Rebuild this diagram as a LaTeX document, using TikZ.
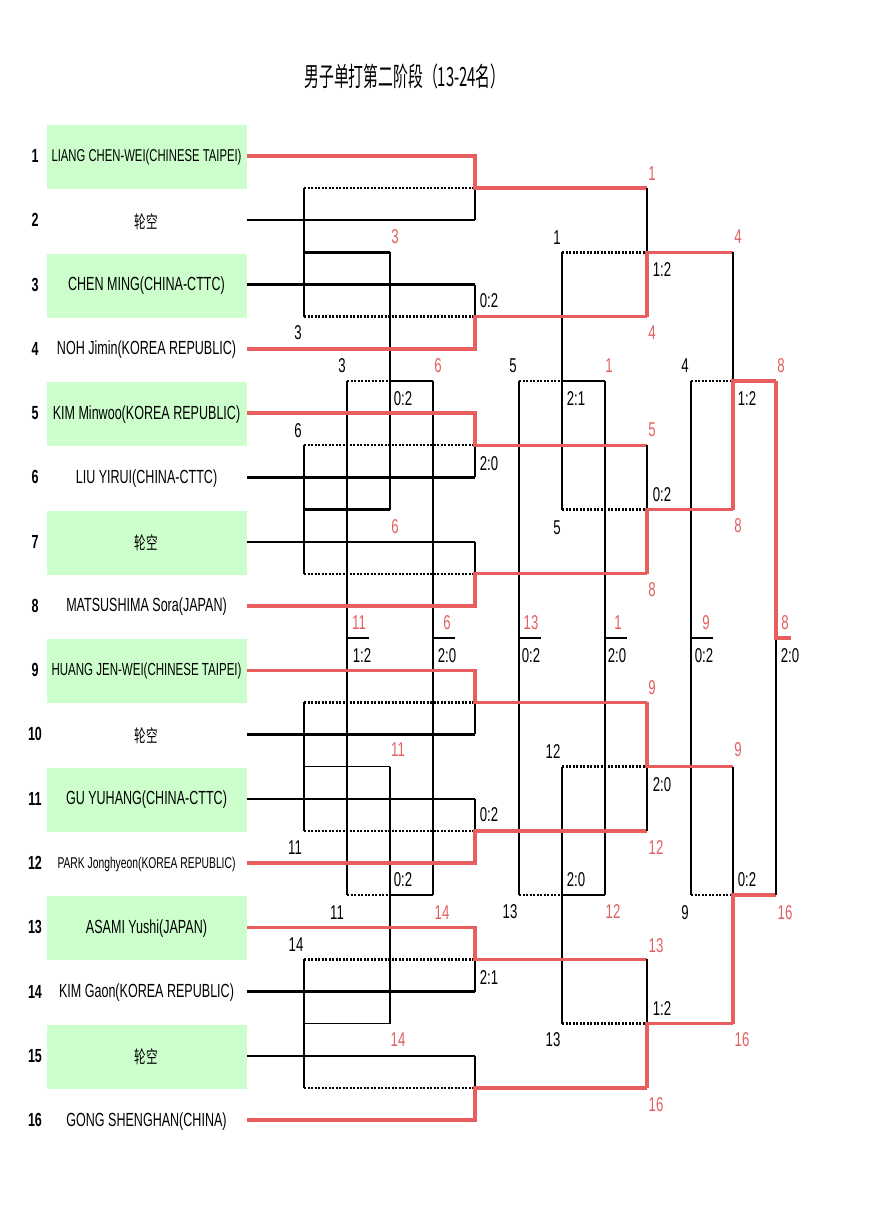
\documentclass[tikz,border=0pt]{standalone}
\usepackage{fontspec}
\setmainfont[FakeStretch=0.66]{Liberation Sans}
\newfontfamily\cjk[FakeStretch=0.66]{Noto Sans CJK SC}
\newfontfamily\cjktitle[FakeStretch=0.56]{Noto Sans CJK SC}
\definecolor{lineRed}{RGB}{232,94,94}
\definecolor{labRed}{RGB}{226,96,96}
\definecolor{boxGreen}{RGB}{204,255,204}
\begin{document}
\begin{tikzpicture}[x=1pt,y=-1pt,
  rl/.style={draw=lineRed,line width=3.4pt,line cap=square},
  bk/.style={draw=black,line width=2.2pt},
  md/.style={draw=black,line width=1.6pt},
  tn/.style={draw=black,line width=1.1pt},
  dt/.style={draw=black,line width=2.4pt,dash pattern=on 2pt off 1.5pt},
  gbox/.style={fill=boxGreen,minimum width=200pt,minimum height=64pt,inner sep=0pt,font=\fontsize{19}{19}\selectfont},
  wbox/.style={minimum width=200pt,minimum height=64pt,inner sep=0pt,font=\fontsize{19}{19}\selectfont},
  num/.style={inner sep=0pt,font=\bfseries\fontsize{19}{19}\selectfont},
  lab/.style={inner sep=0pt,font=\fontsize{20}{20}\selectfont},
  rlab/.style={lab,text=labRed},
  ttl/.style={inner sep=0pt,font=\cjktitle\fontsize{26.5}{26.5}\selectfont}]
\useasboundingbox (0,0) rectangle (870,1231);
\fill[white] (0,0) rectangle (870,1231);

% title
\node[ttl] (title) at (405,76) {男子单打第二阶段（13-24名）};

% row coordinates
\foreach \i/\y in {1/156,2/220.3,3/284.5,4/348.8,5/413.1,6/477.4,7/541.6,8/605.9,9/670.2,10/734.4,11/798.7,12/863.0,13/927.2,14/991.5,15/1055.8,16/1120.1}{
  \coordinate (y\i) at (0,\y);
  \node[num] (k\i) at (35,\y) {\i};
}
% match mid levels
\coordinate (m1) at (0,188.15); \coordinate (m2) at (0,316.65);
\coordinate (m3) at (0,445.25); \coordinate (m4) at (0,573.75);
\coordinate (m5) at (0,702.3);  \coordinate (m6) at (0,830.85);
\coordinate (m7) at (0,959.35); \coordinate (m8) at (0,1087.95);
\coordinate (q1) at (0,252.4);  \coordinate (q2) at (0,509.5);
\coordinate (q3) at (0,766.6);  \coordinate (q4) at (0,1023.65);
\coordinate (s1) at (0,381.0);  \coordinate (s2) at (0,895.1);
\coordinate (f) at (0,638.0);
% columns
\coordinate (cA) at (475,0); \coordinate (cB) at (647,0);
\coordinate (cC) at (733,0); \coordinate (cD) at (776,0); \coordinate (cE) at (791,0);
\coordinate (la) at (304,0); \coordinate (lb) at (390,0);
\coordinate (lc) at (347,0); \coordinate (ld) at (433,0);
\coordinate (le) at (562,0); \coordinate (lf) at (519,0);
\coordinate (lg) at (605,0); \coordinate (lh) at (691,0);

% player boxes
\node[gbox] (n1) at (146.5,157) {\resizebox{190pt}{!}{LIANG CHEN-WEI(CHINESE TAIPEI)}};
\node[wbox] (n2) at (146.5,221.3) {\cjk\fontsize{17.5}{17.5}\selectfont 轮空};
\node[gbox] (n3) at (146.5,285.5) {CHEN MING(CHINA-CTTC)};
\node[wbox] (n4) at (146.5,349.8) {NOH Jimin(KOREA REPUBLIC)};
\node[gbox] (n5) at (146.5,414.1) {KIM Minwoo(KOREA REPUBLIC)};
\node[wbox] (n6) at (146.5,478.4) {LIU YIRUI(CHINA-CTTC)};
\node[gbox] (n7) at (146.5,542.6) {\cjk\fontsize{17.5}{17.5}\selectfont 轮空};
\node[wbox] (n8) at (146.5,606.9) {MATSUSHIMA Sora(JAPAN)};
\node[gbox] (n9) at (146.5,671.2) {\resizebox{190pt}{!}{HUANG JEN-WEI(CHINESE TAIPEI)}};
\node[wbox] (n10) at (146.5,735.4) {\cjk\fontsize{17.5}{17.5}\selectfont 轮空};
\node[gbox] (n11) at (146.5,799.7) {GU YUHANG(CHINA-CTTC)};
\node[wbox] (n12) at (146.5,864.0) {\resizebox{178pt}{!}{PARK Jonghyeon(KOREA REPUBLIC)}};
\node[gbox] (n13) at (146.5,928.2) {ASAMI Yushi(JAPAN)};
\node[wbox] (n14) at (146.5,992.5) {KIM Gaon(KOREA REPUBLIC)};
\node[gbox] (n15) at (146.5,1056.8) {\cjk\fontsize{17.5}{17.5}\selectfont 轮空};
\node[wbox] (n16) at (146.5,1121.1) {GONG SHENGHAN(CHINA)};

% ---------- losers' dotted feeds ----------
\foreach \m in {m1,m2,m3,m4,m5,m6,m7,m8} \draw[dt] (la|-\m) -- (cA|-\m);
\foreach \q in {q1,q2,q3,q4} \draw[dt] (le|-\q) -- (cB|-\q);
\foreach \s in {s1,s2} \draw[dt] (lh|-\s) -- (cC|-\s);

% ---------- consolation brackets ----------
\draw[tn] (la|-m1) -- (la|-m2);
\draw[tn] (la|-m3) -- (la|-m4);
\draw[tn] (la|-m5) -- (la|-m6);
\draw[tn] (la|-m7) -- (la|-m8);
\draw[bk] (la|-q1) -- (lb|-q1);
\draw[bk] (la|-q2) -- (lb|-q2);
\draw[md] (la|-q3) -- (lb|-q3);
\draw[md] (la|-q4) -- (lb|-q4);
\draw[tn] (lb|-q1) -- (lb|-q2);
\draw[tn] (lb|-q3) -- (lb|-q4);
\draw[dt] (lc|-s1) -- (lb|-s1);
\draw[bk] (lb|-s1) -- (ld|-s1);
\draw[dt] (lc|-s2) -- (lb|-s2);
\draw[md] (lb|-s2) -- (ld|-s2);
\draw[tn] (lc|-s1) -- (lc|-s2);
\draw[tn] (ld|-s1) -- (ld|-s2);
\draw[bk] (lc|-f) -- ++(22,0);
\draw[bk] (ld|-f) -- ++(22,0);

\draw[tn] (le|-q1) -- (le|-q2);
\draw[tn] (le|-q3) -- (le|-q4);
\draw[dt] (lf|-s1) -- (le|-s1);
\draw[bk] (le|-s1) -- (lg|-s1);
\draw[dt] (lf|-s2) -- (le|-s2);
\draw[md] (le|-s2) -- (lg|-s2);
\draw[tn] (lf|-s1) -- (lf|-s2);
\draw[tn] (lg|-s1) -- (lg|-s2);
\draw[bk] (lf|-f) -- ++(22,0);
\draw[bk] (lg|-f) -- ++(22,0);

\draw[tn] (lh|-s1) -- (lh|-s2);
\draw[bk] (lh|-f) -- ++(22,0);

% ---------- main bracket, round 1 ----------
\foreach \w/\l/\m in {1/2/m1,5/6/m3,9/10/m5,13/14/m7}{
  \draw[bk] (n\l.east|-y\l) -- (cA|-y\l);
  \draw[tn] (cA|-y\l) -- (cA|-\m);
  \draw[rl] (n\w.east|-y\w) -- (cA|-y\w) -- (cA|-\m) -- (cB|-\m);
}
\foreach \w/\l/\m in {4/3/m2,8/7/m4,12/11/m6,16/15/m8}{
  \draw[bk] (n\l.east|-y\l) -- (cA|-y\l);
  \draw[tn] (cA|-y\l) -- (cA|-\m);
  \draw[rl] (n\w.east|-y\w) -- (cA|-y\w) -- (cA|-\m) -- (cB|-\m);
}
% round 2
\draw[tn] (cB|-m1) -- (cB|-q1); \draw[rl] (cB|-m2) -- (cB|-q1) -- (cC|-q1);
\draw[tn] (cB|-m3) -- (cB|-q2); \draw[rl] (cB|-m4) -- (cB|-q2) -- (cC|-q2);
\draw[tn] (cB|-m6) -- (cB|-q3); \draw[rl] (cB|-m5) -- (cB|-q3) -- (cC|-q3);
\draw[tn] (cB|-m7) -- (cB|-q4); \draw[rl] (cB|-m8) -- (cB|-q4) -- (cC|-q4);
% round 3
\draw[tn] (cC|-q1) -- (cC|-s1); \draw[rl] (cC|-q2) -- (cC|-s1) -- (cD|-s1);
\draw[tn] (cC|-q3) -- (cC|-s2); \draw[rl] (cC|-q4) -- (cC|-s2) -- (cD|-s2);
% final
\draw[tn] (cD|-s2) -- (cD|-f); \draw[rl] (cD|-s1) -- (cD|-f) -- (cE|-f);

% ---------- red labels (winners) ----------
\foreach \t/\x/\y in {1/652/174,4/652/333,5/652/430,8/652/590,9/652/688,12/656/848,13/656/946,16/656/1105,
  4/738/237,8/738/526,9/738/750,16/742/1040,8/781/366,16/785/913,8/785/623,
  3/395/237,6/395/527,11/398/750,14/398/1040,6/438/366,14/442/913,1/609/366,12/613/912,
  11/359/623,6/447/623,13/531/623,1/618/623,9/706/623}
  \node[rlab] at (\x,\y) {\t};

% ---------- black labels (losers) ----------
\foreach \t/\x/\y in {3/298/333,6/298/431,11/295/848,14/296/945,3/342/366,11/337/913,
  1/557/238,5/557/528,12/553/752,13/553/1040,5/513/366,13/510/912,4/685/366,9/685/913}
  \node[lab] at (\x,\y) {\t};

% ---------- scores ----------
\foreach \t/\x/\y in {0:2/489/301,2:0/489/464,0:2/489/815,2:1/489/978,
  1:2/662/270,0:2/662/495,2:0/662/785,1:2/662/1009,1:2/747/399,0:2/747/880,2:0/790/656,
  0:2/403/399,0:2/403/880,2:1/576/399,2:0/576/880,
  1:2/362/656,2:0/447/656,0:2/531/656,2:0/617/656,0:2/704/656}
  \node[lab] at (\x,\y) {\t};
\end{tikzpicture}
\end{document}
